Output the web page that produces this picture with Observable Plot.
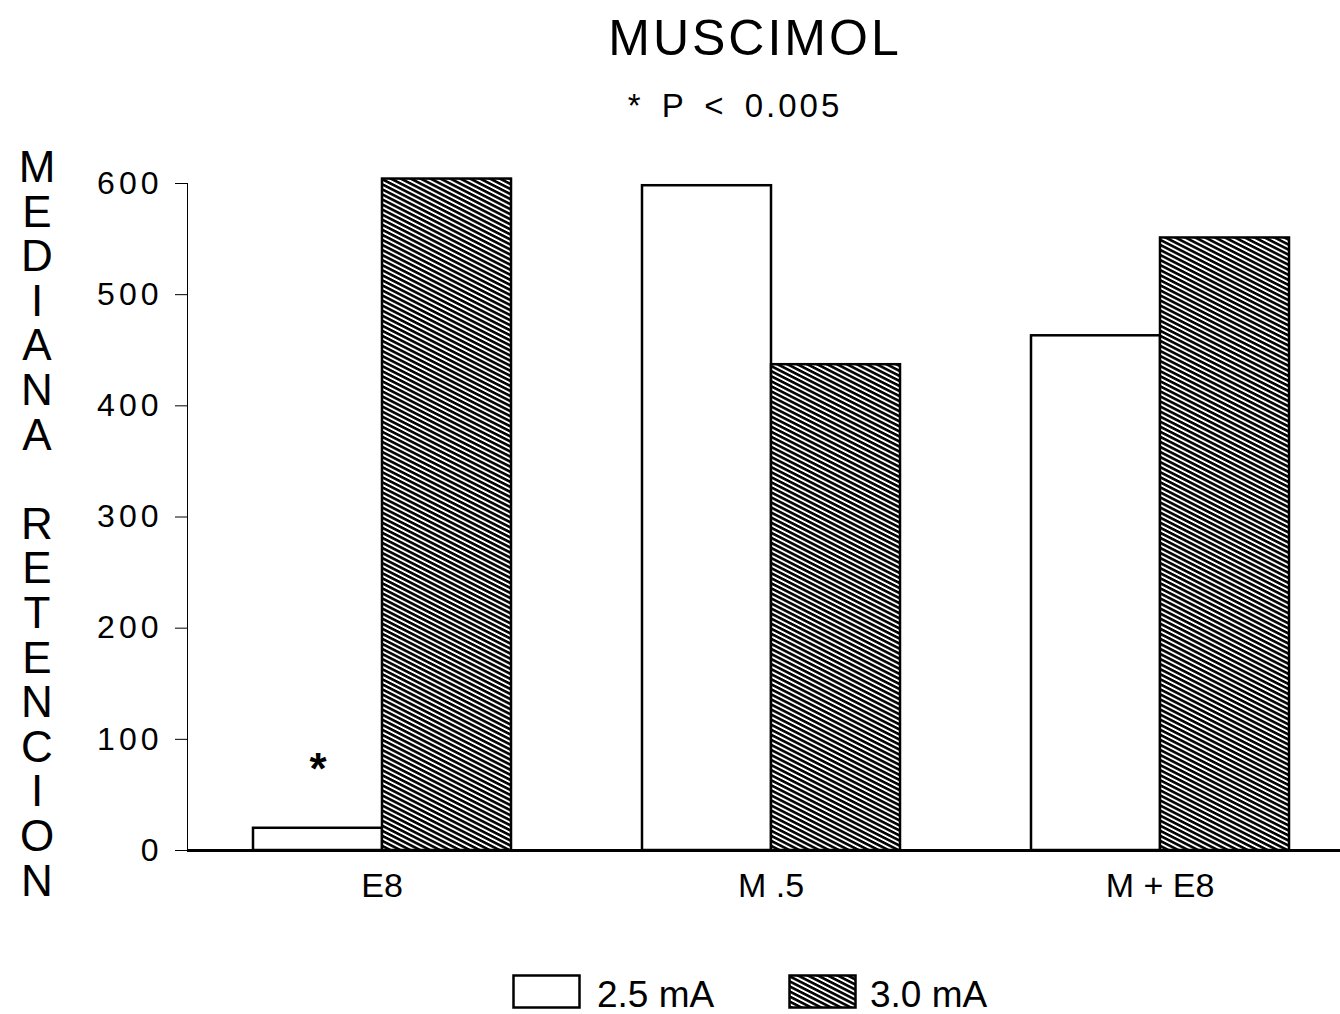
<!DOCTYPE html>
<html>
<head>
<meta charset="utf-8">
<script src="https://cdn.jsdelivr.net/npm/d3@7"></script>
<script src="https://cdn.jsdelivr.net/npm/@observablehq/plot@0.6"></script>
<style>
  html, body { margin: 0; padding: 0; background: #fff; }
  #wrap { position: relative; width: 1340px; height: 1014px; overflow: hidden;
          font-family: "Liberation Sans", Arial, sans-serif; color: #000; }
  #title { position: absolute; left: 505px; width: 500px; top: 13px; text-align: center;
           font-size: 50px; line-height: 50px; letter-spacing: 3px; }
  #subtitle { position: absolute; left: 485px; width: 500px; top: 89px; text-align: center;
              font-size: 33px; line-height: 33px; letter-spacing: 3px; word-spacing: 6px; }
  #ylabel { position: absolute; left: 0; width: 74px; top: 145px; text-align: center;
            font-size: 44px; line-height: 44.6px; white-space: pre; }
  #chart { position: absolute; left: 0; top: 130px; }
  .leg { position: absolute; font-size: 37px; line-height: 32px; }
  .sw { position: absolute; }
  g[aria-label="y-axis tick label"] { font-size: 32px; letter-spacing: 4px; }
</style>
</head>
<body>
<svg width="0" height="0" style="position:absolute">
  <defs>
    <pattern id="hatch" patternUnits="userSpaceOnUse" width="10" height="4.5" patternTransform="rotate(27)">
      <rect width="10" height="4.5" fill="white"></rect>
      <rect width="10" height="2.6" fill="black"></rect>
    </pattern>
  </defs>
</svg>
<div id="wrap">
  <div id="title"></div>
  <div id="subtitle"></div>
  <div id="ylabel"></div>
  <div id="chart"></div>
  <svg class="sw" style="left:512px;top:974px" width="70" height="36"><rect x="1.5" y="1.5" width="66" height="32" fill="white" stroke="black" stroke-width="2.5"></rect></svg>
  <div class="leg" id="leg1" style="left:597px;top:979px"></div>
  <svg class="sw" style="left:788px;top:974px" width="70" height="36"><rect x="1.5" y="1.5" width="66" height="32" fill="url(#hatch)" stroke="black" stroke-width="2.5"></rect></svg>
  <div class="leg" id="leg2" style="left:870px;top:979px"></div>
</div>
<script>
const titleText = "MUSCIMOL";
const subtitleText = "* P < 0.005";
const yLabelText = "MEDIANA RETENCION";
const categories = ["E8", "M .5", "M + E8"];
const series = ["2.5 mA", "3.0 mA"];
const values25 = [20, 598, 463];
const values30 = [604, 437, 551];
const yTicks = [0, 100, 200, 300, 400, 500, 600];
const sigCategory = ["E8"];
const sigSeries = ["2.5 mA"];
const sigLabel = ["*"];

document.getElementById("title").textContent = titleText;
document.getElementById("subtitle").textContent = subtitleText;
document.getElementById("ylabel").textContent = yLabelText.split("").join("\n");
document.getElementById("leg1").textContent = series[0];
document.getElementById("leg2").textContent = series[1];

const data = categories.flatMap((c, i) => [
  {cat: c, current: series[0], value: values25[i]},
  {cat: c, current: series[1], value: values30[i]}
]);
const sig = sigCategory.map((c, i) => ({
  cat: c, current: sigSeries[i],
  value: data.find(d => d.cat === c && d.current === sigSeries[i]).value,
  label: sigLabel[i]
}));

const chart = Plot.plot({
  width: 1340,
  height: 800,
  marginLeft: 186,
  marginRight: -14,
  marginTop: 53,
  marginBottom: 80,
  style: {fontFamily: "Liberation Sans, Arial, sans-serif", fontSize: "34px", color: "#000", background: "transparent"},
  fx: {domain: categories, padding: 0, axis: "bottom", tickSize: 0, tickPadding: 22, label: null},
  x: {domain: series, paddingInner: 0, paddingOuter: 0.5, axis: null},
  y: {domain: [0, 600], ticks: yTicks, tickSize: 12, tickPadding: 13, line: true, label: null},
  color: {domain: series, range: ["white", "url(#hatch)"]},
  marks: [
    Plot.barY(data, {fx: "cat", x: "current", y: "value", fill: "current", stroke: "black", strokeWidth: 2.5}),
    Plot.ruleY([0], {stroke: "black", strokeWidth: 3}),
    Plot.text(sig, {fx: "cat", x: "current", y: "value", text: "label", dy: -58, fontSize: 44, fontWeight: "bold"})
  ]
});
document.getElementById("chart").appendChild(chart);
</script>
</body>
</html>
